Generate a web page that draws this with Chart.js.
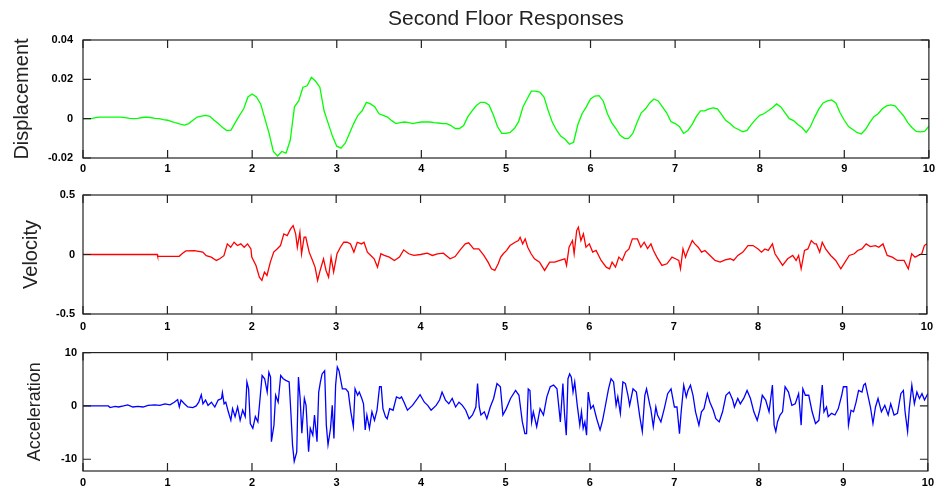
<!DOCTYPE html>
<html>
<head>
<meta charset="utf-8">
<title>Second Floor Responses</title>
<script src="https://cdn.jsdelivr.net/npm/chart.js@4.4.1/dist/chart.umd.min.js"></script>
<style>
  body { margin: 0; background: #fff; }
  #wrap { position: relative; width: 939px; height: 494px; }
  #wrap canvas { position: absolute; left: 0; }
</style>
</head>
<body>
<div id="wrap">
  <canvas id="dispChart" width="939" height="182" style="top:0"></canvas>
  <canvas id="velChart" width="939" height="160" style="top:180px"></canvas>
  <canvas id="accChart" width="939" height="154" style="top:340px"></canvas>
</div>
<script>
// displacement sampled every 0.05 s from 0 to 10 s
const dispStep = 0.05;
const dispV = [
  0, 0, 0, 0.0005, 0.0008, 0.0008, 0.0008, 0.0008, 0.0008, 0.0008,
  0.0005, 0.0002, 0, 0.0002, 0.0006, 0.0008, 0.0006, 0.0002, 0, -0.0005,
  -0.0008, -0.0015, -0.0022, -0.0028, -0.0033, -0.0025, -0.0008, 0.0008, 0.0013, 0.0017,
  0.0012, -0.0008, -0.0025, -0.0045, -0.006, -0.0058, -0.002, 0.0017, 0.005, 0.011,
  0.0125, 0.011, 0.0075, 0, -0.0075, -0.0167, -0.019, -0.0167, -0.0175, -0.011,
  0.006, 0.009, 0.016, 0.0167, 0.021, 0.019, 0.016, 0.004, -0.0025, -0.009,
  -0.014, -0.015, -0.0125, -0.0075, -0.0025, 0.0017, 0.004, 0.0083, 0.0075, 0.006,
  0.0025, 0.0017, 0.0008, -0.001, -0.0025, -0.002, -0.0017, -0.002, -0.0025, -0.002,
  -0.0017, -0.0017, -0.0017, -0.002, -0.0022, -0.0025, -0.0025, -0.0035, -0.005, -0.005,
  -0.0035, 0.001, 0.004, 0.0067, 0.0083, 0.0083, 0.007, 0.002, -0.004, -0.0075,
  -0.0075, -0.007, -0.005, -0.0015, 0.0058, 0.01, 0.014, 0.014, 0.0135, 0.011,
  0.004, -0.002, -0.006, -0.009, -0.0105, -0.013, -0.012, -0.003, 0.0025, 0.006,
  0.01, 0.0115, 0.0117, 0.009, 0.0025, -0.002, -0.005, -0.0085, -0.01, -0.01,
  -0.0075, -0.002, 0.003, 0.005, 0.008, 0.01, 0.009, 0.006, 0.003, -0.0015,
  -0.0025, -0.004, -0.0075, -0.006, -0.003, 0.001, 0.004, 0.004, 0.005, 0.0055,
  0.005, 0.002, -0.001, -0.0025, -0.0045, -0.0055, -0.0067, -0.006, -0.003, -0.0005,
  0.0017, 0.0025, 0.004, 0.0055, 0.0075, 0.006, 0.003, 0, -0.001, -0.003,
  -0.0045, -0.007, -0.004, 0.0008, 0.005, 0.008, 0.009, 0.0095, 0.008, 0.003,
  -0.0008, -0.004, -0.0055, -0.007, -0.0078, -0.0055, -0.002, 0.001, 0.0025, 0.005,
  0.0065, 0.007, 0.0065, 0.004, 0.0015, -0.002, -0.0045, -0.0065, -0.0067, -0.0065,
  -0.0038
];

// velocity: time (s) and value pairs
const velT = [
  0, 0.88, 0.885, 1.14, 1.18, 1.22, 1.32, 1.42, 1.46, 1.52, 1.58, 1.62, 1.67, 1.71, 1.75, 1.79, 1.83, 1.87, 1.91, 1.95,
  1.99, 2.0, 2.05, 2.09, 2.12, 2.15, 2.18, 2.22, 2.26, 2.3, 2.34, 2.38, 2.42, 2.46, 2.49, 2.52, 2.54, 2.57, 2.59, 2.62,
  2.64, 2.68, 2.72, 2.75, 2.78, 2.81, 2.85, 2.88, 2.91, 2.94, 2.97, 3.01, 3.05, 3.09, 3.13, 3.17, 3.21, 3.25, 3.3, 3.33,
  3.37, 3.41, 3.45, 3.49, 3.53, 3.57, 3.63, 3.69, 3.75, 3.8, 3.86, 3.92, 4.0, 4.08, 4.14, 4.2, 4.27, 4.35, 4.41, 4.47,
  4.53, 4.57, 4.63, 4.69, 4.75, 4.8, 4.84, 4.88, 4.92, 4.95, 4.98, 5.02, 5.06, 5.12, 5.16, 5.18, 5.21, 5.24, 5.27, 5.31,
  5.35, 5.41, 5.47, 5.53, 5.59, 5.65, 5.71, 5.73, 5.76, 5.8, 5.82, 5.85, 5.87, 5.9, 5.93, 5.96, 6.0, 6.04, 6.08, 6.14,
  6.2, 6.24, 6.27, 6.31, 6.35, 6.39, 6.43, 6.47, 6.51, 6.57, 6.61, 6.65, 6.69, 6.73, 6.76, 6.8, 6.86, 6.92, 6.98, 7.02,
  7.06, 7.08, 7.11, 7.14, 7.16, 7.22, 7.25, 7.29, 7.33, 7.37, 7.43, 7.49, 7.55, 7.61, 7.67, 7.71, 7.76, 7.82, 7.88, 7.94,
  8.0, 8.04, 8.08, 8.12, 8.17, 8.2, 8.24, 8.29, 8.35, 8.41, 8.45, 8.48, 8.51, 8.55, 8.59, 8.63, 8.67, 8.69, 8.73, 8.76,
  8.8, 8.86, 8.92, 8.98, 9.03, 9.08, 9.14, 9.18, 9.23, 9.28, 9.33, 9.39, 9.43, 9.48, 9.53, 9.59, 9.65, 9.73, 9.76, 9.78,
  9.82, 9.86, 9.9, 9.94, 9.97, 10.0
];
const velV = [
  0, 0, -0.015, -0.015, 0.01, 0.03, 0.033, 0.02, -0.01, -0.022, -0.05, -0.036, -0.01, 0.089, 0.061, 0.103, 0.075, 0.089, 0.061, 0.089,
  0.047, -0.022, -0.092, -0.19, -0.218, -0.148, -0.176, -0.064, 0.02, 0.047, 0.075, 0.173, 0.159, 0.215, 0.243, 0.173, 0.061, 0.187, 0.006, 0.145,
  0.145, 0.02, -0.05, -0.106, -0.218, -0.134, -0.036, -0.134, -0.19, -0.022, -0.148, 0.006, 0.061, 0.103, 0.103, 0.089, 0.02, 0.103, 0.089, 0.103,
  0.02, -0.008, -0.036, -0.106, 0.006, -0.008, -0.022, -0.05, -0.022, 0.039, 0.006, -0.008, 0, 0.011, -0.008, 0.006, 0.011, -0.036, -0.017, 0.039,
  0.089, 0.098, 0.047, 0.047, -0.008, -0.064, -0.12, -0.134, -0.078, -0.022, 0.006, 0.034, 0.075, 0.103, 0.117, 0.145, 0.089, 0.131, 0.061, 0.006,
  -0.036, -0.064, -0.134, -0.064, -0.064, -0.05, -0.036, -0.092, 0.061, 0.117, 0.006, 0.201, 0.229, 0.117, 0.173, 0.061, 0.089, 0.02, 0.034, -0.05,
  -0.106, -0.12, -0.064, -0.106, -0.022, -0.05, 0.02, 0.047, 0.131, 0.131, 0.061, 0.103, 0.05, 0.089, 0.034, -0.022, -0.092, -0.078, -0.022, -0.036,
  -0.05, -0.12, 0.047, -0.022, 0.02, 0.117, 0.089, 0.061, 0.02, 0.034, -0.008, -0.05, -0.064, -0.045, -0.036, -0.05, -0.008, 0.02, 0.075, 0.075,
  0.047, 0.02, 0.047, 0.034, 0.089, 0.006, -0.036, -0.092, -0.036, -0.008, -0.05, -0.008, -0.12, 0.034, 0.047, 0.117, 0.089, 0.089, 0.02, 0.103,
  0.047, -0.008, -0.05, -0.12, -0.064, -0.008, 0.006, 0.034, 0.047, 0.089, 0.067, 0.075, 0.061, 0.089, -0.008, -0.022, -0.05, -0.05, -0.092, -0.12,
  0.006, -0.022, -0.008, 0.006, 0.075, 0.089
];

// acceleration: time (s) and value pairs
const accT = [
  0, 0.3, 0.32, 0.38, 0.42, 0.48, 0.53, 0.59, 0.65, 0.71, 0.77, 0.85, 0.91, 0.97, 1.03, 1.08, 1.12, 1.14, 1.16, 1.2,
  1.24, 1.3, 1.34, 1.37, 1.4, 1.42, 1.45, 1.48, 1.52, 1.56, 1.6, 1.64, 1.65, 1.67, 1.69, 1.72, 1.75, 1.77, 1.8, 1.83,
  1.86, 1.89, 1.92, 1.94, 1.96, 1.98, 2.01, 2.04, 2.07, 2.09, 2.12, 2.15, 2.18, 2.2, 2.22, 2.23, 2.26, 2.28, 2.31, 2.34,
  2.37, 2.4, 2.44, 2.46, 2.48, 2.5, 2.53, 2.55, 2.57, 2.59, 2.62, 2.64, 2.67, 2.69, 2.72, 2.74, 2.77, 2.79, 2.81, 2.83,
  2.86, 2.88, 2.9, 2.93, 2.95, 2.97, 2.99, 3.01, 3.03, 3.07, 3.11, 3.14, 3.17, 3.2, 3.22, 3.25, 3.27, 3.3, 3.32, 3.34,
  3.36, 3.39, 3.42, 3.45, 3.48, 3.51, 3.53, 3.55, 3.58, 3.6, 3.63, 3.67, 3.71, 3.75, 3.77, 3.8, 3.84, 3.9, 3.96, 3.99,
  4.04, 4.08, 4.12, 4.18, 4.22, 4.25, 4.29, 4.33, 4.37, 4.41, 4.45, 4.49, 4.53, 4.57, 4.61, 4.65, 4.67, 4.69, 4.71, 4.75,
  4.78, 4.82, 4.86, 4.9, 4.94, 4.97, 5.01, 5.06, 5.12, 5.16, 5.2, 5.23, 5.25, 5.27, 5.29, 5.31, 5.33, 5.37, 5.41, 5.45,
  5.49, 5.53, 5.57, 5.61, 5.65, 5.68, 5.7, 5.72, 5.74, 5.76, 5.78, 5.8, 5.82, 5.85, 5.88, 5.9, 5.92, 5.94, 5.96, 5.98,
  6.01, 6.04, 6.08, 6.12, 6.15, 6.18, 6.22, 6.25, 6.28, 6.31, 6.33, 6.36, 6.39, 6.42, 6.45, 6.47, 6.51, 6.55, 6.59, 6.62,
  6.65, 6.67, 6.71, 6.72, 6.75, 6.78, 6.8, 6.84, 6.88, 6.92, 6.96, 7.0, 7.03, 7.06, 7.08, 7.11, 7.14, 7.16, 7.19, 7.22,
  7.25, 7.29, 7.32, 7.35, 7.39, 7.42, 7.46, 7.49, 7.53, 7.57, 7.61, 7.65, 7.69, 7.71, 7.75, 7.78, 7.82, 7.86, 7.9, 7.94,
  7.98, 8.01, 8.04, 8.08, 8.12, 8.16, 8.18, 8.2, 8.22, 8.25, 8.28, 8.31, 8.35, 8.39, 8.43, 8.47, 8.5, 8.52, 8.55, 8.59,
  8.63, 8.67, 8.71, 8.75, 8.77, 8.8, 8.82, 8.86, 8.9, 8.94, 8.98, 9.0, 9.04, 9.06, 9.09, 9.12, 9.15, 9.18, 9.22, 9.24,
  9.26, 9.29, 9.32, 9.35, 9.38, 9.41, 9.45, 9.49, 9.53, 9.56, 9.6, 9.64, 9.68, 9.71, 9.73, 9.76, 9.78, 9.81, 9.84, 9.87,
  9.9, 9.93, 9.96, 10.0
];
const accV = [
  0, 0, -0.3, -0.1, -0.2, 0, 0.2, -0.2, -0.1, -0.2, 0.1, 0.2, 0.1, 0.4, 0.2, 0.7, 1.2, -0.2, 1.1, 0.4,
  -0.2, -0.3, 0, 0.7, 2.1, 0.4, 1.1, 0.1, 0.7, -0.2, 1.1, 1.4, 2.5, 0.4, 0.7, -1.1, -2.7, -0.5, -2.0, -0.2,
  -2.7, -0.8, -2.0, 4.5, 3.2, -3.3, -4.2, -2.0, -3.0, 0.4, 5.7, 5.1, 2.6, 6.3, 5.4, -6.7, -3.6, 2.0, 0.7, 5.7,
  5.1, 4.8, 4.5, -1.1, -7.3, -10.4, -8.6, 5.4, 1.4, -5.1, 1.4, 0.1, -8.6, -4.2, -5.5, -1.7, -6.7, 2.6, 4.5, 6.0,
  6.6, -3.6, -7.3, -4.2, 0.1, -6.1, 3.9, 7.3, 6.6, 3.2, 3.2, 2.6, -1.1, -3.9, 3.2, 2.0, 2.6, 1.4, 0.4, -4.5,
  -1.7, -4.2, -1.1, -2.7, -0.8, 3.6, 3.6, -0.5, -2.0, -2.4, -0.5, -0.8, 1.7, 1.4, 1.7, 0.7, -0.8, 0.1, 1.4, 2.1,
  0.7, 0.1, -0.8, 0.1, 1.1, 2.6, 1.1, 0.4, 1.4, -0.2, 0.7, 0.1, -0.8, -2.4, -1.7, -0.2, 4.2, -0.2, -1.7, -1.1,
  -2.4, -0.2, 1.4, 4.2, 3.6, -1.7, -0.5, 1.4, 2.9, 2.0, -3.0, -5.2, -5.2, 3.2, 2.9, -3.0, -1.1, -3.9, -0.5, -1.7,
  1.7, 3.6, 3.9, 3.2, -3.0, 4.2, -1.7, -5.5, 5.1, 6.0, 5.4, 2.6, 4.5, 0.1, -3.6, -1.1, -4.2, -3.0, -5.5, 2.6,
  -0.5, 0.1, -2.4, -4.5, -2.7, -0.2, 3.2, 5.1, 4.5, 0.1, 1.7, -1.4, 4.5, 4.2, 2.0, 0.1, 3.2, 2.6, -2.0, -4.8,
  2.0, 3.2, 0.1, -0.5, -3.9, -0.2, -1.7, -3.0, -0.5, 2.3, 3.2, -0.2, -0.2, -5.2, -1.1, 3.9, 1.7, 2.9, 3.9, 2.0,
  -1.1, -3.6, -1.1, -0.5, 2.3, 0.7, -0.8, -2.4, -3.0, -1.1, 2.0, 2.6, 1.1, -0.2, 1.4, 0.4, 1.4, 2.9, 1.4, -1.1,
  -2.7, -0.8, 2.0, 1.1, -1.1, 3.9, -3.6, -4.8, -3.0, -1.7, -1.1, 3.6, 2.6, 0.1, 0.4, 2.3, -3.6, 3.2, 2.0, 2.0,
  -1.1, -3.3, -2.7, 3.9, -1.1, -0.2, -2.0, -1.4, -1.7, -0.5, 2.0, 3.6, 3.6, -3.6, -0.8, -1.1, 0.7, 2.9, 2.6, 3.9,
  4.2, 2.0, -0.2, -3.3, -0.2, 1.4, -1.1, 0.1, -1.7, 0.4, -1.7, -1.4, 2.3, 2.9, -1.1, -4.8, -0.5, 3.9, 0.4, 2.6,
  1.4, 2.3, 1.1, 2.3
];

// tick values for each axis
const timeTicks = [0, 1, 2, 3, 4, 5, 6, 7, 8, 9, 10];
const dispTicks = [-0.02, 0, 0.02, 0.04];
const velTicks = [-0.5, 0, 0.5];
const accTicks = [-10, 0, 10];

const tickFont = { family: "'Liberation Sans', Arial, sans-serif", size: 11, weight: 'bold' };
const labelFamily = "'Liberation Sans', Arial, sans-serif";

// matlab style box with tick marks pointing inwards on all four sides
const boxTicks = {
  id: 'boxTicks',
  afterDatasetsDraw(chart) {
    const { ctx, chartArea: a, scales } = chart;
    const len = 8;
    ctx.save();
    ctx.strokeStyle = '#222';
    ctx.lineWidth = 1.2;
    ctx.strokeRect(a.left, a.top, a.right - a.left, a.bottom - a.top);
    ctx.beginPath();
    scales.x.ticks.forEach(t => {
      const px = scales.x.getPixelForValue(t.value);
      ctx.moveTo(px, a.bottom); ctx.lineTo(px, a.bottom - len);
      ctx.moveTo(px, a.top); ctx.lineTo(px, a.top + len);
    });
    scales.y.ticks.forEach(t => {
      const py = scales.y.getPixelForValue(t.value);
      ctx.moveTo(a.left, py); ctx.lineTo(a.left + len, py);
      ctx.moveTo(a.right, py); ctx.lineTo(a.right - len, py);
    });
    ctx.stroke();
    ctx.restore();
  }
};

function makeChart(id, opts) {
  const points = opts.t.map((t, i) => ({ x: t, y: opts.v[i] }));
  return new Chart(document.getElementById(id), {
    type: 'line',
    data: {
      datasets: [{
        data: points,
        borderColor: opts.color,
        borderWidth: 1.3,
        pointRadius: 0,
        tension: 0,
        fill: false
      }]
    },
    options: {
      responsive: false,
      animation: false,
      layout: { padding: { top: opts.padTop, right: 7, left: 0, bottom: 0 } },
      plugins: {
        legend: { display: false },
        tooltip: { enabled: false },
        title: opts.title ? {
          display: true,
          text: opts.title,
          fullSize: false,
          color: '#222',
          font: { family: labelFamily, size: 21, weight: 'normal' },
          padding: { top: 7, bottom: 7.8 }
        } : { display: false }
      },
      scales: {
        x: {
          type: 'linear',
          min: 0,
          max: 10,
          grid: { display: false, drawTicks: false },
          border: { display: false },
          afterBuildTicks: s => { s.ticks = timeTicks.map(v => ({ value: v })); },
          afterFit: s => { s.height = opts.xHeight; },
          ticks: {
            color: '#000',
            font: tickFont,
            padding: opts.xPad,
            maxRotation: 0,
            autoSkip: false,
            callback: v => String(v)
          }
        },
        y: {
          min: opts.min,
          max: opts.max,
          grid: { display: false, drawTicks: false },
          border: { display: false },
          afterBuildTicks: s => { s.ticks = opts.ticks.map(v => ({ value: v })); },
          afterFit: s => { s.width = 83; },
          ticks: {
            color: '#000',
            font: tickFont,
            padding: opts.yPad,
            callback: v => String(v)
          },
          title: {
            display: true,
            text: opts.label,
            color: '#222',
            font: { family: labelFamily, size: opts.labelSize },
            padding: { top: opts.labelPad, bottom: 0 }
          }
        }
      }
    },
    plugins: [boxTicks]
  });
}

const dispT = dispV.map((_, i) => Math.round(i * dispStep * 100) / 100);

makeChart('dispChart', {
  t: dispT, v: dispV, color: '#00ff00',
  title: 'Second Floor Responses',
  padTop: 0, xHeight: 24, xPad: 4,
  min: -0.02, max: 0.04, ticks: dispTicks, yPad: 10,
  label: 'Displacement', labelSize: 20, labelPad: 10
});

makeChart('velChart', {
  t: velT, v: velV, color: '#ff0000',
  padTop: 15, xHeight: 26, xPad: 6,
  min: -0.5, max: 0.5, ticks: velTicks, yPad: 8,
  label: 'Velocity', labelSize: 20, labelPad: 19
});

makeChart('accChart', {
  t: accT, v: accV, color: '#0000ff',
  padTop: 12, xHeight: 23, xPad: 5,
  min: -12.2, max: 10, ticks: accTicks, yPad: 6,
  label: 'Acceleration', labelSize: 18, labelPad: 24
});
</script>
</body>
</html>
